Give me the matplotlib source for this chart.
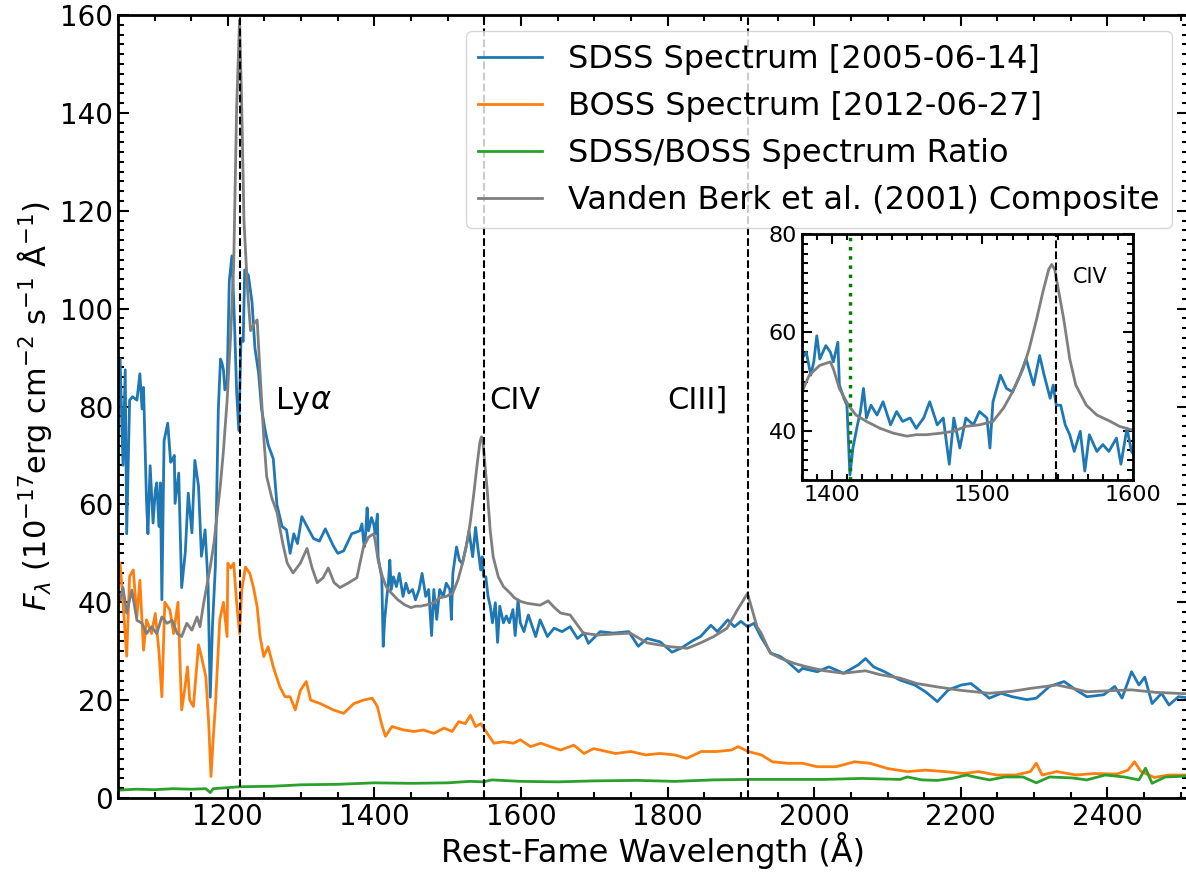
import matplotlib
matplotlib.use("Agg")
import matplotlib.pyplot as plt
from matplotlib.ticker import MultipleLocator

# SDSS spectrum (rest-frame wavelength, flux)
sdss_wave = [1050, 1053, 1057, 1060, 1062, 1066, 1070, 1076, 1080, 1083, 1085, 1089, 1091, 1094, 1098,
             1101, 1103, 1106, 1108, 1110, 1113, 1118, 1122, 1124, 1127, 1128, 1133, 1137, 1142, 1146,
             1151, 1155, 1160, 1164, 1169, 1173, 1176, 1179, 1183, 1187, 1190, 1192, 1194, 1196, 1199,
             1202, 1205.6, 1209, 1212, 1215, 1218, 1221, 1223, 1228, 1233, 1237, 1242, 1246, 1251, 1255,
             1262, 1267, 1274, 1280, 1285, 1290, 1295, 1301, 1308, 1317, 1325, 1333, 1344, 1350, 1358,
             1369, 1380, 1383, 1386, 1388, 1390, 1392, 1396, 1399, 1401, 1404, 1405, 1408, 1410, 1412,
             1414, 1417, 1419, 1421, 1423, 1426, 1430, 1434, 1439, 1443, 1447, 1452, 1456, 1461, 1465,
             1470, 1474, 1478, 1481, 1485, 1489, 1494, 1498, 1503, 1505, 1507, 1512, 1516, 1520, 1525,
             1529, 1534, 1538, 1541, 1545, 1547, 1549, 1552, 1555, 1558, 1561, 1565, 1568, 1571, 1576,
             1580, 1584, 1589, 1592, 1596, 1599, 1604, 1610, 1620, 1626, 1636, 1645, 1656, 1667, 1677,
             1686, 1692, 1708, 1726, 1747, 1760, 1772, 1790, 1806, 1818, 1836, 1845, 1859, 1868, 1882,
             1891, 1900, 1909, 1918, 1927, 1941, 1954, 1964, 1979, 1984, 2004, 2020, 2040, 2060, 2070,
             2081, 2096, 2117, 2137, 2152, 2168, 2183, 2201, 2214, 2239, 2255, 2270, 2290, 2303, 2321,
             2341, 2357, 2372, 2395, 2410, 2420, 2433, 2443, 2451, 2461, 2474, 2484, 2497, 2508]
sdss_flux = [85, 89.7, 68, 87.5, 54, 81.3, 82, 81.3, 86.7, 79.5, 83.9, 60.9, 54, 67.9, 56.2,
             62.8, 64.4, 55.5, 64.4, 40.5, 73, 76.6, 68.6, 69, 70, 60.2, 66.4, 43, 50.3, 62.3,
             54.2, 69, 63.7, 49.4, 54.8, 43.8, 20.6, 35, 47.3, 79.3, 89.7, 88.9, 87.5, 83.4, 84.6,
             105.7, 110.8, 97.7, 83, 75.1, 94, 93.3, 107.9, 106.8, 101.3, 91.9, 86.8, 79.5, 75.1, 72.2,
             69.3, 59.9, 55.5, 54.8, 50, 54, 52, 57.5, 55.5, 53, 52.5, 55, 51.5, 50, 50.5,
             54, 54.6, 56, 51.3, 54, 59.3, 54.6, 57.3, 56, 54, 58, 49.3, 46.6, 45.2, 31,
             36.5, 41.2, 43.9, 48.6, 42.6, 45.2, 43.2, 45.9, 41.2, 43.9, 41.9, 42.6, 40.5, 42.6, 45.9,
             41.2, 42.6, 33.2, 42.6, 36.5, 42.6, 41.2, 43.9, 42.6, 36.5, 45.9, 51.3, 48.6, 47.9, 51.3,
             54.6, 49.3, 55.3, 51.3, 46.6, 49.3, 45.2, 45.2, 41.2, 39.2, 35.8, 39.9, 31.8, 39.2, 35.8,
             37.2, 35.8, 38.5, 33.2, 40.5, 35.8, 34, 37.4, 33, 36.4, 33, 34.7, 34, 35, 32.6,
             33.7, 31.6, 34, 33.7, 34, 31, 32.6, 31.9, 29.8, 30.6, 32.3, 33, 35.3, 34, 36.4,
             35, 36.1, 35, 35.7, 33, 29.6, 28.9, 27.8, 25.8, 26.5, 25.8, 26.8, 25.5, 27.2, 28.5,
             26.8, 25.8, 24.1, 23.1, 21.7, 19.7, 22.1, 23.1, 23.4, 20.4, 21.4, 20.7, 20.1, 20.4, 22.8,
             23.8, 22.1, 20.7, 21.1, 22.8, 20.4, 25.8, 23.1, 24.7, 19.3, 21.4, 19, 20.7, 20.5]

# BOSS spectrum
boss_wave = [1050, 1053, 1057, 1062, 1066, 1071, 1076, 1080, 1085, 1089, 1096, 1101, 1106, 1110, 1114,
             1121, 1126, 1132, 1137, 1141, 1145, 1148, 1153, 1160, 1164, 1170, 1174, 1177, 1180, 1183,
             1189, 1194, 1199, 1200, 1204, 1208, 1212, 1216, 1219, 1224, 1230, 1235, 1240, 1244, 1249,
             1255, 1262, 1271, 1278, 1285, 1292, 1299, 1307, 1313, 1326, 1344, 1358, 1372, 1385, 1397,
             1404, 1410, 1415, 1424, 1440, 1454, 1467, 1481, 1495, 1506, 1515, 1524, 1531, 1538, 1545,
             1554, 1563, 1576, 1590, 1599, 1613, 1627, 1640, 1654, 1672, 1686, 1699, 1708, 1729, 1750,
             1770, 1790, 1810, 1826, 1846, 1867, 1887, 1896, 1910, 1928, 1943, 1964, 1984, 2004, 2030,
             2055, 2076, 2101, 2127, 2152, 2178, 2204, 2224, 2249, 2275, 2295, 2303, 2311, 2331, 2357,
             2382, 2413, 2428, 2437, 2446, 2464, 2484, 2508]
boss_flux = [45, 48, 40, 29, 45.3, 46.6, 37, 44.5, 30.2, 36.4, 33.6, 37.7, 30, 20.7, 40,
             38.4, 33.6, 40, 18, 22, 26.8, 20, 18.7, 31.3, 28.9, 24.8, 15, 4.4, 12, 18.7,
             36.4, 40, 33, 48, 47, 48, 40, 33.6, 42.5, 47.2, 45.9, 43, 39.1, 33, 28.9,
             30.9, 26.8, 22.7, 20.7, 20.7, 18, 22, 23.8, 20, 19.3, 18, 17.3, 19.3, 20, 20.4,
             18.7, 15, 12.6, 14.6, 13.9, 13.6, 13.9, 13.2, 14.3, 13.6, 15.6, 15.2, 16.9, 14.6, 15.2,
             13.2, 11.2, 11.5, 11.2, 11.9, 10.5, 11.2, 10.5, 9.8, 10.8, 9.1, 10.1, 9.8, 9.1, 9.5,
             8.8, 9.1, 8.8, 8.1, 9.5, 9.5, 9.8, 10.5, 9.5, 8.8, 7.4, 7.1, 7.1, 6.4, 6.4,
             7.4, 7.1, 6, 5.4, 5.7, 5.4, 5, 5.4, 4.7, 4.7, 5.4, 7.1, 4.7, 5.4, 4.7,
             5, 4.9, 5.7, 7.4, 5.4, 4.2, 4.7, 4.7]

# SDSS / BOSS ratio
ratio_wave = [1050, 1075, 1100, 1125, 1150, 1170, 1176, 1180, 1216, 1260, 1300, 1350, 1400, 1450, 1500,
              1530, 1549, 1560, 1600, 1650, 1700, 1759, 1810, 1862, 1910, 1963, 2014, 2065, 2117, 2127,
              2147, 2168, 2188, 2208, 2219, 2239, 2260, 2285, 2303, 2321, 2352, 2372, 2397, 2423, 2443,
              2452, 2461, 2479, 2497, 2508]
ratio_val = [1.6, 1.8, 1.7, 1.9, 1.8, 1.9, 1.1, 1.9, 2.3, 2.4, 2.7, 2.8, 3.1, 3.0, 3.1,
             3.4, 3.3, 3.7, 3.4, 3.3, 3.5, 3.6, 3.4, 3.7, 3.8, 3.8, 3.8, 4.0, 3.8, 4.3,
             3.7, 3.6, 4.0, 4.7, 4.3, 3.7, 4.3, 4.3, 3.1, 4.3, 4.1, 3.7, 4.7, 4.3, 3.7,
             6.1, 3.0, 4.3, 4.4, 4.5]

# Vanden Berk et al. (2001) composite
comp_wave = [1050, 1053, 1057, 1062, 1069, 1076, 1083, 1089, 1096, 1103, 1110, 1117, 1124, 1131, 1137,
             1144, 1151, 1158, 1162, 1167, 1172, 1176, 1181, 1185, 1190, 1194, 1199, 1204, 1208, 1212,
             1216, 1219, 1222, 1227, 1231, 1236, 1240, 1244, 1249, 1253, 1260, 1267, 1275, 1281, 1289,
             1299, 1308, 1315, 1322, 1330, 1337, 1345, 1353, 1365, 1376, 1385, 1392, 1399, 1401, 1405,
             1411, 1416, 1423, 1432, 1441, 1450, 1456, 1463, 1472, 1481, 1489, 1498, 1507, 1514, 1520,
             1527, 1531, 1536, 1540, 1544, 1546, 1548, 1550, 1554, 1558, 1562, 1569, 1576, 1585, 1591,
             1599, 1608, 1626, 1637, 1645, 1654, 1667, 1685, 1704, 1725, 1749, 1772, 1804, 1827, 1845,
             1863, 1881, 1895, 1909, 1922, 1928, 1940, 1955, 1973, 1990, 2014, 2040, 2070, 2090, 2117,
             2140, 2168, 2200, 2239, 2270, 2295, 2331, 2350, 2372, 2400, 2433, 2465, 2508]
comp_flux = [41, 40.5, 43, 37.8, 42.5, 36.3, 35.7, 33.6, 35, 33.6, 37, 35.7, 36.3, 33.6, 33,
             35.7, 34.3, 37, 35, 39.8, 43.9, 47.2, 52, 57.4, 64.2, 71, 81.2, 95, 109, 141,
             159, 141, 118, 103.5, 95.5, 97, 97.7, 86.8, 73.7, 65.7, 61.3, 58.4, 52, 48, 46,
             48, 51, 47, 44, 45, 47, 44, 43, 44, 45, 51.3, 53.3, 54, 52.6, 48.6,
             45.2, 43.2, 41.9, 40.5, 39.5, 38.9, 39.2, 39.2, 39.5, 39.9, 40.9, 41.2, 41.9, 44.6, 47.9,
             52.6, 56.6, 62.7, 68, 72.8, 73.8, 72.8, 69.4, 62.7, 54.6, 49.3, 45.2, 43.2, 41.9, 40.9,
             40.2, 39.8, 39.4, 40.3, 39, 37.8, 37.4, 33.7, 33.3, 33.5, 33.7, 31.7, 30.9, 30.6, 31.7,
             33, 34.7, 38.4, 41.8, 35, 33.6, 29.6, 28.5, 27.5, 26.8, 26, 25.5, 26, 25.2, 24.5,
             23.4, 22.7, 22, 21.4, 21.8, 22.4, 23.1, 22.5, 21.7, 21.9, 22.1, 21.6, 21.3]

# emission lines
line_wave = [1216, 1549, 1909]
line_names = [r"Ly$\alpha$", "CIV", "CIII]"]
line_label_x = [1265, 1557, 1800]

fig = plt.figure(figsize=(11.86, 8.73), dpi=100)
ax = fig.add_axes([0.0994, 0.0859, 0.9023, 0.8969])

ax.plot(sdss_wave, sdss_flux, color="tab:blue", lw=2, label="SDSS Spectrum [2005-06-14]")
ax.plot(boss_wave, boss_flux, color="tab:orange", lw=2, label="BOSS Spectrum [2012-06-27]")
ax.plot(ratio_wave, ratio_val, color="tab:green", lw=2, label="SDSS/BOSS Spectrum Ratio")
ax.plot(comp_wave, comp_flux, color="tab:gray", lw=2, label="Vanden Berk et al. (2001) Composite")

for w, name, xt in zip(line_wave, line_names, line_label_x):
    ax.axvline(w, color="black", ls="--", lw=1.5)
    ax.text(xt, 79.5, name, fontsize=22)

ax.set_xlim(1050, 2510)
ax.set_ylim(0, 160)
ax.xaxis.set_major_locator(MultipleLocator(200))
ax.xaxis.set_minor_locator(MultipleLocator(50))
ax.yaxis.set_major_locator(MultipleLocator(20))
ax.yaxis.set_minor_locator(MultipleLocator(2))
ax.tick_params(which="both", direction="in", top=True, right=True, width=1.5, labelsize=20)
ax.tick_params(which="major", length=8)
ax.tick_params(which="minor", length=4.5)
for s in ax.spines.values():
    s.set_linewidth(2)
ax.set_xlabel("Rest-Fame Wavelength (Å)", fontsize=23, labelpad=1)
ax.set_ylabel(r"$F_\lambda$ ($10^{-17}$erg cm$^{-2}$ s$^{-1}$ Å$^{-1}$)", fontsize=22, labelpad=4)
ax.legend(loc="upper right", fontsize=23)

# zoom on the CIV region
axin = fig.add_axes([0.676, 0.4502, 0.2793, 0.2818])
axin.plot(sdss_wave, sdss_flux, color="tab:blue", lw=2)
axin.plot(comp_wave, comp_flux, color="tab:gray", lw=2)
axin.axvline(1549, color="black", ls="--", lw=1.5)
axin.axvline(1412, color="green", ls=":", lw=2.5)
axin.text(1560, 70, "CIV", fontsize=15)
axin.set_xlim(1380, 1600)
axin.set_ylim(30, 80)
axin.xaxis.set_major_locator(MultipleLocator(100))
axin.xaxis.set_minor_locator(MultipleLocator(10))
axin.yaxis.set_major_locator(MultipleLocator(20))
axin.yaxis.set_minor_locator(MultipleLocator(2))
axin.tick_params(which="both", direction="in", top=True, right=True, width=1.5, labelsize=16)
axin.tick_params(which="major", length=7)
axin.tick_params(which="minor", length=4)
for s in axin.spines.values():
    s.set_linewidth(2)

fig.savefig("out.png", dpi=100)
